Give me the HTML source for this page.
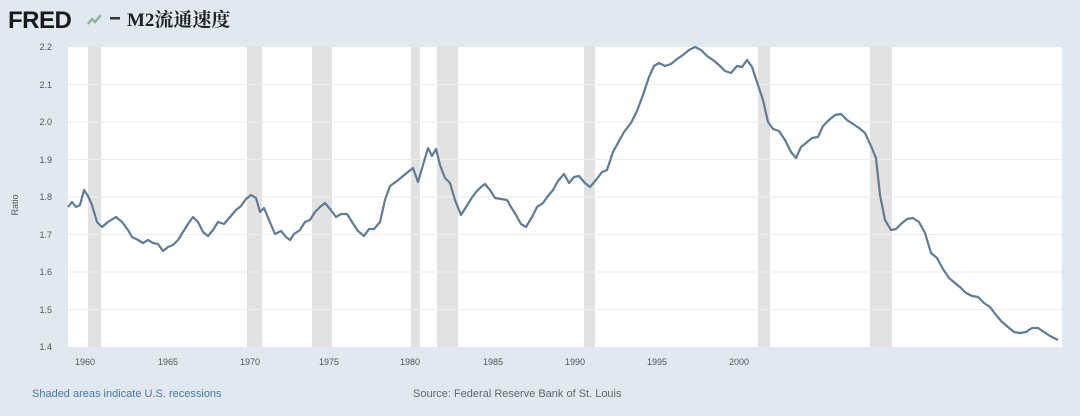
<!DOCTYPE html>
<html><head><meta charset="utf-8"><style>
html,body{margin:0;padding:0;}
body{width:1080px;height:416px;background:#e1e8f0;overflow:hidden;font-family:"Liberation Sans",sans-serif;}
</style></head><body>
<svg width="1080" height="416" xmlns="http://www.w3.org/2000/svg" style="position:absolute;left:0;top:0">
<rect x="0" y="0" width="1080" height="416" fill="#e1e8f0"/>
<text x="8" y="28" font-family="Liberation Sans, sans-serif" font-weight="bold" font-size="24" fill="#1a1a1a" letter-spacing="-0.5">FRED</text>
<path d="M88 24 L92 19 L95 22 L101 15" stroke="#8fb89a" stroke-width="2.5" fill="none"/>
<rect x="110" y="17" width="10" height="2.5" fill="#333"/>
<text x="127" y="26" font-family="Liberation Serif, 'Noto Serif CJK SC', serif" font-weight="bold" font-size="19" fill="#222">M2流通速度</text>
<rect x="68" y="47" width="994" height="300" fill="#ffffff"/>
<g fill="#e2e2e2">
<rect x="88" y="47" width="13" height="300"/>
<rect x="247" y="47" width="15" height="300"/>
<rect x="312" y="47" width="20" height="300"/>
<rect x="411" y="47" width="9" height="300"/>
<rect x="437" y="47" width="21" height="300"/>
<rect x="584" y="47" width="11" height="300"/>
<rect x="758" y="47" width="12" height="300"/>
<rect x="870" y="47" width="22" height="300"/>
</g>
<g stroke="#eeeeee" stroke-width="1">
<line x1="68" x2="1062" y1="84.5" y2="84.5"/><line x1="68" x2="1062" y1="122" y2="122"/>
<line x1="68" x2="1062" y1="159.5" y2="159.5"/><line x1="68" x2="1062" y1="197" y2="197"/>
<line x1="68" x2="1062" y1="234.5" y2="234.5"/><line x1="68" x2="1062" y1="272" y2="272"/>
<line x1="68" x2="1062" y1="309.5" y2="309.5"/>
</g>
<g font-size="9" fill="#555" text-anchor="end" font-family="Liberation Sans, sans-serif">
<text x="52" y="50">2.2</text><text x="52" y="88">2.1</text><text x="52" y="125">2.0</text>
<text x="52" y="163">1.9</text><text x="52" y="200">1.8</text><text x="52" y="238">1.7</text>
<text x="52" y="275">1.6</text><text x="52" y="313">1.5</text><text x="52" y="350">1.4</text>
</g>
<text x="18" y="205" font-size="9" fill="#555" transform="rotate(-90 18 205)" text-anchor="middle">Ratio</text>
<g font-size="9" fill="#555" text-anchor="middle">
<text x="85" y="365">1960</text><text x="168" y="365">1965</text><text x="250" y="365">1970</text>
<text x="329" y="365">1975</text><text x="410" y="365">1980</text><text x="493" y="365">1985</text>
<text x="575" y="365">1990</text><text x="657" y="365">1995</text><text x="739" y="365">2000</text>
</g>
<polyline fill="none" stroke="#5f7c94" stroke-width="2.2" stroke-linejoin="round" points="68,207 72,202 76,207 80,205 84,190 88,196 92,205 97,222 102,227 108,222 116,217 122,222 128,230 132,237 138,240 143,243 148,240 153,243 158,244 163,251 168,247 173,245 178,240 183,232 188,224 193,217 198,222 203,232 208,236 213,230 218,222 224,224 230,217 236,210 241,206 246,199 251,195 256,198 260,212 264,208 269,220 275,234 281,231 286,237 290,240 294,234 300,230 305,222 310,220 315,212 320,207 325,203 330,209 336,217 341,214 347,214 352,222 358,231 364,236 369,229 374,229 380,222 385,200 390,186 397,181 403,176 408,172 413,168 418,182 423,165 428,148 432,156 436,149 440,165 445,178 450,183 455,200 461,215 466,207 471,199 476,192 481,187 485,184 490,190 495,198 501,199 507,200 511,207 516,215 521,224 526,227 532,217 537,207 543,203 548,196 553,190 558,181 564,174 569,183 574,177 579,176 585,183 590,187 596,180 602,172 607,170 613,152 619,141 624,132 631,123 637,111 643,95 649,77 654,66 659,63 665,66 671,64 677,59 683,55 689,50 695,47 701,50 707,56 713,60 719,65 725,71 731,73 737,66 742,67 747,60 752,67 757,82 763,100 768,122 773,129 779,131 785,140 791,152 796,158 801,147 806,143 812,138 818,137 823,126 829,120 835,115 841,114 847,120 853,124 859,128 865,133 871,146 876,158 880,195 885,220 891,230 896,229 901,224 907,219 913,218 919,222 925,233 931,253 937,258 943,269 949,278 955,283 961,288 966,293 972,296 978,297 984,303 990,307 996,315 1002,322 1008,327 1014,332 1020,333 1026,332 1032,328 1038,328 1044,332 1050,336 1058,340"/>
<text x="32" y="397" font-size="11" fill="#4a78a8">Shaded areas indicate U.S. recessions</text>
<text x="413" y="397" font-size="11" fill="#666">Source: Federal Reserve Bank of St. Louis</text>
</svg>
</body></html>
